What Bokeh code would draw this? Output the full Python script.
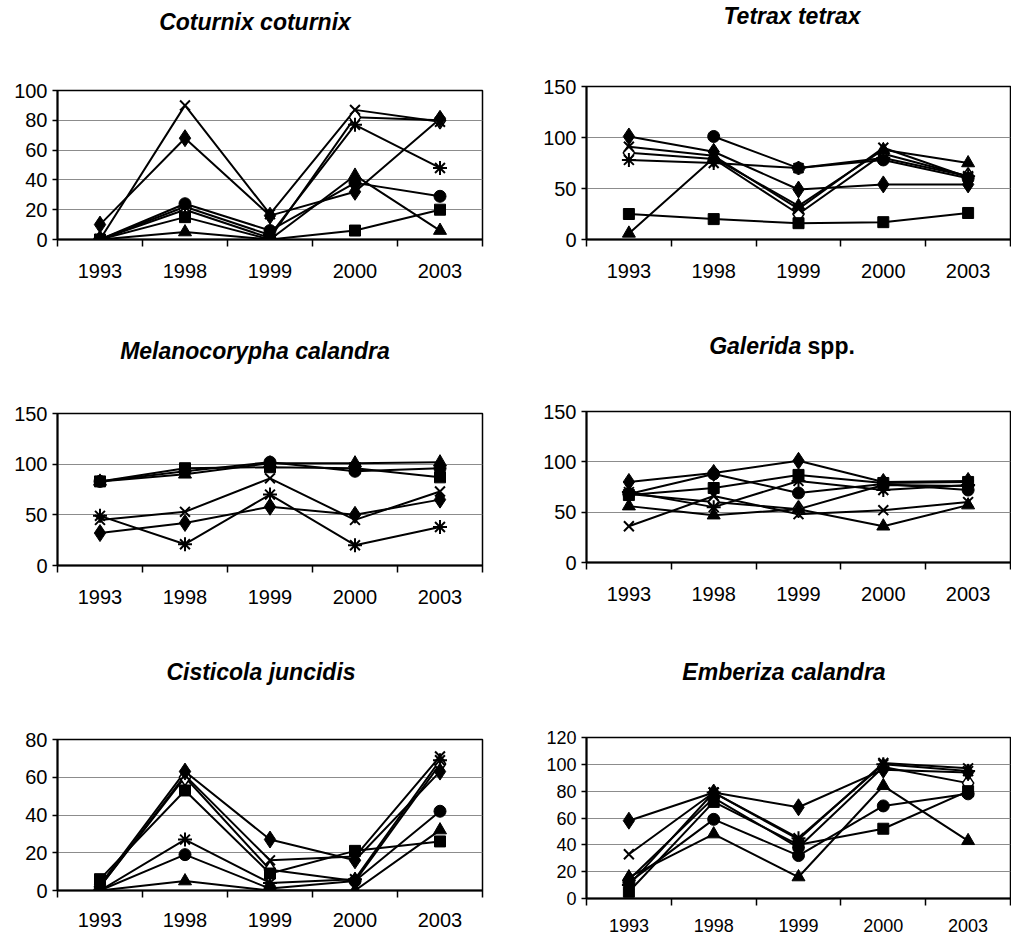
from bokeh.plotting import figure
from bokeh.models import FixedTicker, Div, Range1d
from bokeh.layouts import column, row
from bokeh.embed import file_html
from bokeh.resources import INLINE

years = ["1993", "1998", "1999", "2000", "2003"]
NaN = float("nan")

# Coturnix coturnix
coturnix = {
    "diamond":  [10, 68, 16, 32, 81],
    "square":   [0, 15, 0, 6, 20],
    "triangle": [0, 5, 0, 43, 6],
    "x":        [0, 90, 17, 87, 79],
    "asterisk": [0, 22, 3, 77, 48],
    "circle":   [0, 24, 6, 38, 29],
    "open":     [0, 20, 1, 82, 80],
}
# Tetrax tetrax
tetrax = {
    "diamond":  [101, 86, 49, 54, 54],
    "square":   [25, 20, 16, 17, 26],
    "triangle": [6, 80, 33, 88, 75],
    "x":        [91, 82, 30, 90, 61],
    "asterisk": [78, 75, 70, 80, 62],
    "circle":   [NaN, 101, 70, 78, 60],
    "open":     [85, 79, 25, 84, 62],
}
# Melanocorypha calandra
melanocorypha = {
    "diamond":  [32, 42, 58, 50, 65],
    "square":   [83, 96, 97, 96, 87],
    "triangle": [83, 90, 101, 101, 102],
    "x":        [45, 53, 86, 45, 73],
    "asterisk": [49, 21, 70, 20, 38],
    "circle":   [83, 93, 102, 93, 96],
}
# Galerida spp.
galerida = {
    "diamond":  [80, 89, 101, 80, 81],
    "square":   [67, 74, 87, 79, 80],
    "triangle": [56, 47, 53, 36, 57],
    "x":        [36, 66, 48, 52, 60],
    "asterisk": [70, 55, 81, 72, 77],
    "circle":   [68, 88, 69, 78, 72],
    "open":     [68, 60, 53, 77, 76],
}
# Cisticola juncidis
cisticola = {
    "diamond":  [3, 63, 27, 16, 63],
    "square":   [6, 53, 9, 21, 26],
    "triangle": [0, 5, 0, 0, 32],
    "x":        [2, 61, 16, 18, 71],
    "asterisk": [0, 27, 4, 6, 69],
    "circle":   [0, 19, 1, 5, 42],
    "open":     [2, 60, 11, 5, 67],
}
# Emberiza calandra
emberiza = {
    "diamond":  [58, 79, 68, 96, 94],
    "square":   [5, 72, 40, 52, 80],
    "triangle": [16, 48, 16, 84, 43],
    "x":        [33, 79, 44, 101, 97],
    "asterisk": [10, 79, 45, 100, 95],
    "circle":   [12, 59, 32, 69, 78],
    "open":     [14, 75, 38, 98, 86],
}

MARKERS = {
    "diamond":  dict(marker="diamond", size=17, fill_color="black", line_color="black"),
    "square":   dict(marker="square", size=11, fill_color="black", line_color="black"),
    "triangle": dict(marker="triangle", size=13, fill_color="black", line_color="black"),
    "x":        dict(marker="x", size=14, fill_color=None, line_color="black", line_width=2),
    "asterisk": dict(marker="asterisk", size=14, fill_color=None, line_color="black", line_width=2),
    "circle":   dict(marker="circle", size=12, fill_color="black", line_color="black"),
    "open":     dict(marker="diamond", size=17, fill_color="white", line_color="black", line_width=1.5),
}
ORDER = ["open", "diamond", "square", "triangle", "x", "asterisk", "circle"]


def make_panel(series, ymax, ystep, w, h, bl, br, bt, bb, fs=20, xstand=17):
    xs = list(range(len(years)))
    p = figure(width=w, height=h, x_range=Range1d(-0.5, len(years) - 0.5),
               y_range=Range1d(0, ymax), output_backend="svg", toolbar_location=None,
               min_border_left=bl, min_border_right=br, min_border_top=bt,
               min_border_bottom=bb)
    p.background_fill_color = "white"
    p.border_fill_color = "white"
    p.outline_line_color = "black"
    p.outline_line_width = 1.5
    p.xgrid.visible = False
    p.ygrid.grid_line_color = "#8c8c8c"
    p.ygrid.grid_line_width = 1
    yt = list(range(0, ymax + 1, ystep))
    p.ygrid.ticker = FixedTicker(ticks=yt)

    xa = p.xaxis[0]
    xa.ticker = FixedTicker(ticks=xs, minor_ticks=[i - 0.5 for i in range(len(years) + 1)])
    xa.major_label_overrides = {i: yv for i, yv in enumerate(years)}
    xa.major_tick_line_color = None
    xa.major_tick_out = 0
    xa.major_tick_in = 0
    xa.minor_tick_out = 7
    xa.minor_tick_in = 0
    xa.minor_tick_line_color = "black"
    xa.minor_tick_line_width = 1.5
    xa.major_label_standoff = xstand

    ya = p.yaxis[0]
    ya.ticker = FixedTicker(ticks=yt)
    ya.minor_tick_line_color = None
    ya.major_tick_out = 5
    ya.major_tick_in = 0
    ya.major_tick_line_width = 1.5
    ya.major_label_standoff = 5

    for ax in (xa, ya):
        ax.axis_line_color = "black"
        ax.axis_line_width = 2
        ax.major_label_text_font = "Liberation Sans"
        ax.major_label_text_font_size = f"{fs}px"
        ax.major_label_text_color = "black"

    for key in ORDER:
        if key not in series:
            continue
        vals = series[key]
        p.line(xs, vals, line_color="black", line_width=2)
    for key in ORDER:
        if key not in series:
            continue
        vals = series[key]
        p.scatter(xs, vals, **MARKERS[key])
    return p


def title_div(html, w, h, cx, cy):
    inner = (f'<div style="position:relative;width:{w}px;height:{h}px;overflow:visible;">'
             f'<div style="position:absolute;left:{cx - 200}px;width:400px;top:{cy - 14}px;'
             f'text-align:center;font-family:\'Liberation Sans\',Arial,sans-serif;'
             f'font-weight:bold;font-size:23px;line-height:28px;color:black;white-space:nowrap;">'
             f'{html}</div></div>')
    return Div(text=inner, width=w, height=h, margin=0)


LW = 505
RW = 506

left = column(
    title_div("<i>Coturnix coturnix</i>", LW, 45, 255, 22),
    make_panel(coturnix, 100, 20, LW, 255, 54, 23, 45, 61),
    title_div("<i>Melanocorypha calandra</i>", LW, 75, 255, 51),
    make_panel(melanocorypha, 150, 50, LW, 245, 57, 23, 38, 55),
    title_div("<i>Cisticola juncidis</i>", LW, 70, 261, 52),
    make_panel(cisticola, 80, 20, LW, 244, 48, 22, 49, 44, xstand=15),
    spacing=0,
)
right = column(
    title_div("<i>Tetrax tetrax</i>", RW, 40, 287, 16),
    make_panel(tetrax, 150, 50, RW, 260, 63, 1, 46, 61),
    title_div("<i>Galerida</i> spp.", RW, 75, 277, 46),
    make_panel(galerida, 150, 50, RW, 245, 81, 1, 36, 58),
    title_div("<i>Emberiza calandra</i>", RW, 80, 279, 52),
    make_panel(emberiza, 120, 20, RW, 234, 81, 1, 37, 36, fs=18, xstand=13),
    spacing=0,
)
layout = row(left, right, spacing=0)

open("out.html", "w").write(file_html(layout, INLINE))
